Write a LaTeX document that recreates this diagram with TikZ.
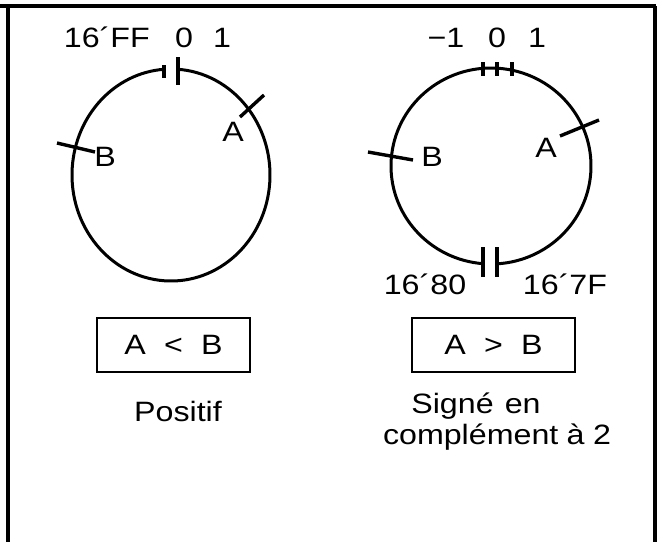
\documentclass[tikz,border=0pt]{standalone}
\usepackage{fontspec}
\setmainfont{Liberation Sans}[FakeStretch=1.15]
\begin{document}
\begin{tikzpicture}[x=1pt,y=-1pt,
  lbl/.style={inner sep=0pt, font=\fontsize{28}{32}\selectfont},
  ring/.style={line width=3pt},
  tick/.style={line width=3.4pt},
  frame/.style={line width=3.6pt},
  boxed/.style={draw, line width=1.8pt, minimum width=153pt, minimum height=54pt, inner sep=0pt, font=\fontsize{28}{32}\selectfont}]
\useasboundingbox (0,0) rectangle (663,542);
% frame
\draw[frame] (0,6) -- (656,6);
\draw[frame] (8,6) -- (8,542);
\draw[frame] (655,6) -- (655,542);
% left circle
\coordinate (CL) at (171,175);
\draw[ring] (CL) ++(274:99 and 106) arc[start angle=274, end angle=626, x radius=99, y radius=106];
\draw[tick] (164,65) -- (164,78);
\draw[tick] (178,57) -- (178,85);
\draw[tick] (240,117) -- (264,95);
\draw[tick] (57,143) -- (95,152);
\node[lbl, anchor=base east] (ff) at (150,47) {16´FF};
\node[lbl, anchor=base] (z0) at (184,47) {0};
\node[lbl, anchor=base] (o1) at (222,47) {1};
\node[lbl, anchor=base] (AL) at (233,141) {A};
\node[lbl, anchor=base] (BL) at (105,166) {B};
% right circle
\coordinate (CR) at (491,166);
\draw[ring] (CR) ++(94:100 and 98) arc[start angle=94, end angle=446, x radius=100, y radius=98];
\draw[tick] (483,62) -- (483,76);
\draw[tick] (497,62) -- (497,76);
\draw[tick] (512,62) -- (512,76);
\draw[tick] (483,247) -- (483,277);
\draw[tick] (497,247) -- (497,277);
\draw[tick] (560,136) -- (599,120);
\draw[tick] (368,152) -- (413,160);
\node[lbl, anchor=base] (m1) at (446,47) {−1};
\node[lbl, anchor=base] (z0r) at (497,47) {0};
\node[lbl, anchor=base] (o1r) at (537,47) {1};
\node[lbl, anchor=base] (AR) at (546,157) {A};
\node[lbl, anchor=base] (BR) at (432,166) {B};
\node[lbl, anchor=base] (h80) at (425,294) {16´80};
\node[lbl, anchor=base] (h7F) at (565,294) {16´7F};
% boxes
\node[boxed] (bl) at (173.5,345) {A\hspace{0.65em}<\hspace{0.65em}B};
\node[boxed, minimum width=163pt] (br) at (493.5,345) {A\hspace{0.65em}>\hspace{0.65em}B};
\node[lbl, anchor=base] (pos) at (178,421) {Positif};
\node[lbl, anchor=base] (sig1) at (476,413) {Signé\hspace{0.4em}en};
\node[lbl, anchor=base] (sig2) at (497,444) {complément\hspace{0.3em}à\hspace{0.3em}2};
\end{tikzpicture}
\end{document}
